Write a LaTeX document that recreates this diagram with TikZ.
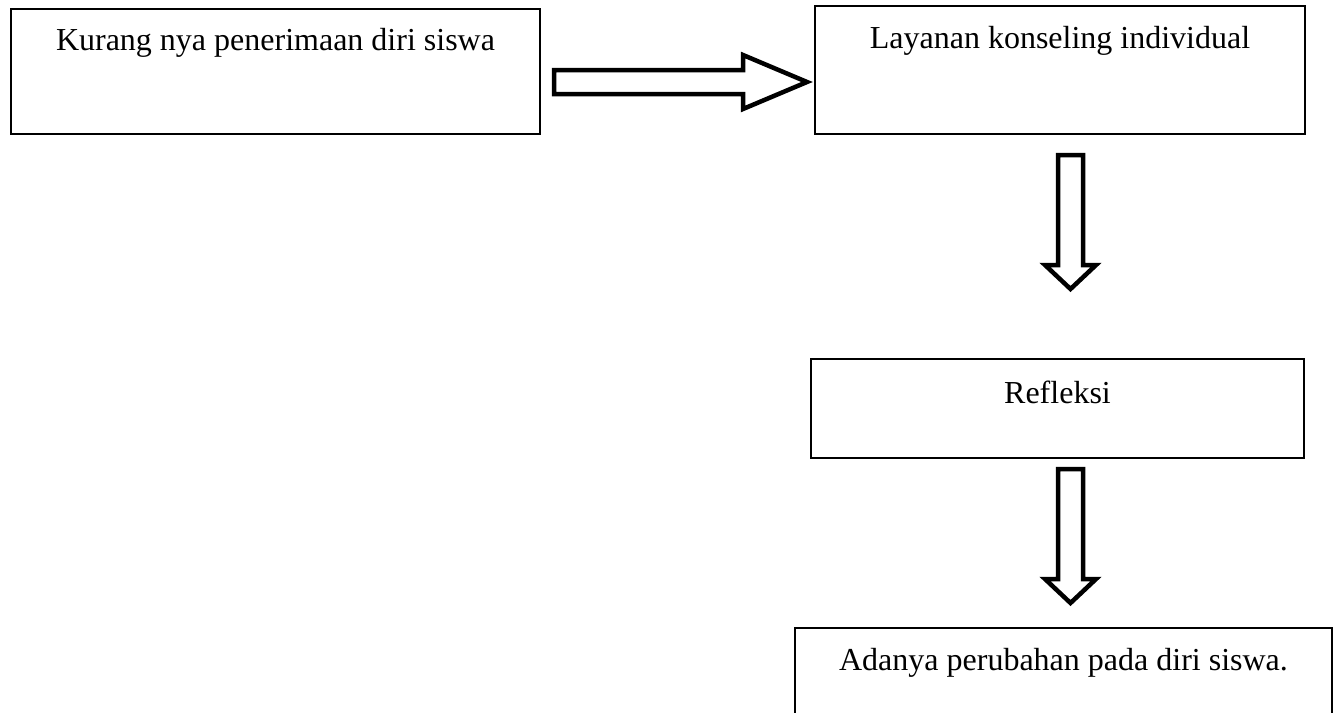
\documentclass[tikz,border=0pt]{standalone}
\usepackage{fontspec}
\setmainfont{Liberation Serif}
\usetikzlibrary{calc}
\begin{document}
\begin{tikzpicture}[x=1pt,y=-1pt,
  box/.style={draw=black, line width=2pt, fill=white, anchor=north west, inner sep=0pt},
  txt/.style={anchor=base, inner sep=0pt, font=\fontsize{32}{38}\selectfont},
  blockarrow/.style={draw=black, line width=4.5pt, line join=miter, fill=white}]
\clip (0,0) rectangle (1341,712);
\fill[white] (0,0) rectangle (1341,712);
% boxes
\node[box, minimum width=529pt, minimum height=125pt] (b1) at (10,8) {};
\node[box, minimum width=490pt, minimum height=128pt] (b2) at (814,5) {};
\node[box, minimum width=493pt, minimum height=99pt] (b3) at (810,358) {};
\node[box, minimum width=537pt, minimum height=100pt] (b4) at (794,627) {};
% texts
\node[txt] (t1) at ($(b1.north)+(0,42)$) {Kurang nya penerimaan diri siswa};
\node[txt] (t2) at ($(b2.north)+(0,43)$) {Layanan konseling individual};
\node[txt] (t3) at ($(b3.north)+(0,45)$) {Refleksi};
\node[txt] (t4) at ($(b4.north)+(0,43)$) {Adanya perubahan pada diri siswa.};
% horizontal block arrow
\coordinate (h0) at (554,82);
\coordinate (h1) at (743,82);
\coordinate (h2) at (807,82);
\draw[blockarrow] ($(h0)+(0,-12)$) -- ($(h1)+(0,-12)$) -- ($(h1)+(0,-27)$) -- (h2)
  -- ($(h1)+(0,27)$) -- ($(h1)+(0,12)$) -- ($(h0)+(0,12)$) -- cycle;
% vertical block arrow 1
\coordinate (va0) at (1070.5,155);
\coordinate (va1) at (1070.5,265);
\coordinate (va2) at (1070.5,289);
\draw[blockarrow] ($(va0)+(-12.5,0)$) -- ($(va1)+(-12.5,0)$) -- ($(va1)+(-25.5,0)$) -- (va2)
  -- ($(va1)+(25.5,0)$) -- ($(va1)+(12.5,0)$) -- ($(va0)+(12.5,0)$) -- cycle;
% vertical block arrow 2
\coordinate (vb0) at (1070.5,469);
\coordinate (vb1) at (1070.5,579);
\coordinate (vb2) at (1070.5,603);
\draw[blockarrow] ($(vb0)+(-12.5,0)$) -- ($(vb1)+(-12.5,0)$) -- ($(vb1)+(-25.5,0)$) -- (vb2)
  -- ($(vb1)+(25.5,0)$) -- ($(vb1)+(12.5,0)$) -- ($(vb0)+(12.5,0)$) -- cycle;
\end{tikzpicture}
\end{document}
